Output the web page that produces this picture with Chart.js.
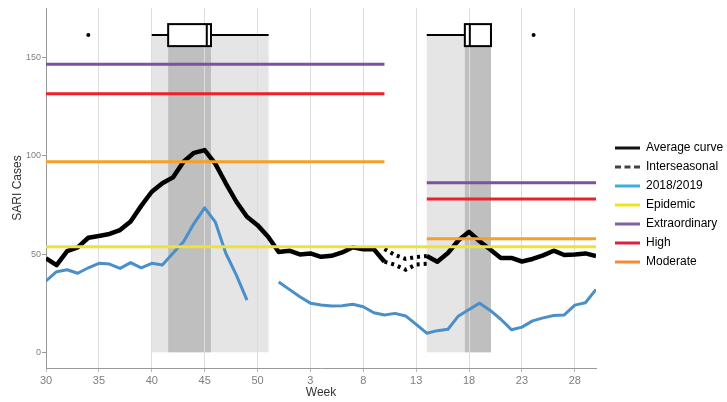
<!DOCTYPE html>
<html>
<head>
<meta charset="utf-8">
<script src="https://cdn.jsdelivr.net/npm/chart.js@4.4.1/dist/chart.umd.min.js"></script>
<style>
  html, body { margin: 0; padding: 0; background: #ffffff; }
  #wrap { width: 727px; height: 402px; }
</style>
</head>
<body>
<div id="wrap"><canvas id="sari"></canvas></div>
<script>
// === Data ===
// x axis runs on week position (0 = week 30 of the first year)
const weekLabels = [30, 31, 32, 33, 34, 35, 36, 37, 38, 39, 40, 41, 42, 43, 44, 45, 46, 47, 48, 49, 50, 51, 52,
    1, 2, 3, 4, 5, 6, 7, 8, 9, 10, 11, 12, 13, 14, 15, 16, 17, 18, 19, 20, 21, 22, 23, 24, 25, 26, 27, 28, 29, 30];
const xTickWeeks = [30, 35, 40, 45, 50, 3, 8, 13, 18, 23, 28];
const yTicks = [0, 50, 100, 150];

const averageCurve = [47.8, 44.4, 51.5, 53.4, 58.3, 59.2, 60.2, 62.2, 66.6, 74.5,
    81.7, 86.0, 89.0, 97.0, 101.5, 102.9, 96.0, 86.0, 76.6, 69.0,
    64.7, 58.8, 51.0, 51.7, 49.8, 50.3, 48.6, 49.1, 50.8, 53.4,
    52.4, 52.4, 46.1, null, null, null, 49.0, 46.1, 50.5, 57.0,
    61.3, 56.5, 52.3, 48.0, 48.0, 46.2, 47.5, 49.3, 51.7, 49.5,
    49.8, 50.3, 49.0];

const season2018 = [36.3, 41.0, 42.0, 40.2, 43.0, 45.3, 44.9, 42.7, 45.6, 43.0,
    45.3, 44.4, 50.4, 56.3, 65.6, 73.5, 66.4, 50.4, 39.3, 26.5,
    null, null, 35.8, 32.0, 28.3, 25.0, 24.1, 23.5, 23.7, 24.4,
    23.2, 20.1, 19.0, 19.8, 18.5, 14.2, 9.7, 11.0, 11.7, 18.5,
    21.8, 25.0, 21.3, 16.8, 11.5, 12.8, 16.0, 17.5, 18.7, 19.0,
    24.0, 25.2, 32.0];

// interseasonal band between the two seasons (positions 32..36)
const interseasonalStart = 32;
const interseasonalHigh = [52.5, 49.5, 47.5, 48.5, 49.0];
const interseasonalLow = [46.1, 44.5, 42.0, 44.7, 45.0];

// alert thresholds, one value per season
const thresholdNames = ['Epidemic', 'Extraordinary', 'High', 'Moderate'];
const thresholdSeasonOne = [53.7, 146.6, 131.5, 97.0];
const thresholdSeasonTwo = [53.7, 86.3, 78.0, 57.8];
const seasonSpans = [[0, 32], [36, 52]];

// peak timing box plots (in week positions)
const peakLevel = 161.4;
const peakHalfHeight = 5.6;
const peakBoxes = [
    { min: 10, q1: 11.55, median: 15.2, q3: 15.6, max: 21.05 },
    { min: 36, q1: 39.6, median: 40.07, q3: 42.07, max: 42.07 }
];
const peakOutliers = [4, 46.1];

const legendNames = ['Average curve', 'Interseasonal', '2018/2019', 'Epidemic', 'Extraordinary', 'High', 'Moderate'];

// === Styles ===
const lineColors = {
    'Epidemic': '#eee13a',
    'Extraordinary': '#7e50a0',
    'High': '#ee2128',
    'Moderate': '#f5a124'
};
const legendStyles = {
    'Average curve': { color: '#111111', dash: [] },
    'Interseasonal': { color: '#444444', dash: [6, 3.5] },
    '2018/2019': { color: '#3aaee0', dash: [] },
    'Epidemic': { color: '#f2e21a', dash: [] },
    'Extraordinary': { color: '#8062a8', dash: [] },
    'High': { color: '#e11f3a', dash: [] },
    'Moderate': { color: '#f28c3a', dash: [] }
};

Chart.defaults.font.family = "'Liberation Sans', Arial, sans-serif";

// === Helpers ===
function toPoints(values, start = 0) {
    return values.map((v, i) => ({ x: start + i, y: v }));
}

function thresholdPoints(i) {
    const a = seasonSpans[0], b = seasonSpans[1];
    return [
        { x: a[0], y: thresholdSeasonOne[i] },
        { x: a[1], y: thresholdSeasonOne[i] },
        { x: (a[1] + b[0]) / 2, y: null },
        { x: b[0], y: thresholdSeasonTwo[i] },
        { x: b[1], y: thresholdSeasonTwo[i] }
    ];
}

const thresholdSets = thresholdNames.map((name, i) => ({
    label: name,
    data: thresholdPoints(i),
    borderColor: lineColors[name],
    borderWidth: 3,
    pointRadius: 0,
    spanGaps: name === 'Epidemic'
}));

// shaded peak windows + box plots
const peakPlugin = {
    id: 'peakPlugin',
    beforeDraw(chart) {
        const { ctx, chartArea, scales: { x, y } } = chart;
        const top = y.getPixelForValue(peakLevel);
        const bottom = y.getPixelForValue(0);
        ctx.save();
        ctx.beginPath();
        ctx.rect(chartArea.left, chartArea.top, chartArea.width, chartArea.height);
        ctx.clip();
        peakBoxes.forEach(b => {
            const x0 = x.getPixelForValue(b.min), x1 = x.getPixelForValue(b.max);
            ctx.fillStyle = '#e5e5e5';
            ctx.fillRect(x0, top, x1 - x0, bottom - top);
            const q1 = x.getPixelForValue(b.q1), q3 = x.getPixelForValue(b.q3);
            ctx.fillStyle = '#bfbfbf';
            ctx.fillRect(q1, top, q3 - q1, bottom - top);
        });
        ctx.restore();
    },
    afterDatasetsDraw(chart) {
        const { ctx, scales: { x, y } } = chart;
        const mid = y.getPixelForValue(peakLevel);
        const boxTop = y.getPixelForValue(peakLevel + peakHalfHeight);
        const boxBottom = y.getPixelForValue(peakLevel - peakHalfHeight);
        ctx.save();
        ctx.strokeStyle = '#000000';
        ctx.lineWidth = 2;
        peakBoxes.forEach(b => {
            const px = v => x.getPixelForValue(v);
            ctx.beginPath();
            ctx.moveTo(px(b.min), mid);
            ctx.lineTo(px(b.q1), mid);
            ctx.moveTo(px(b.q3), mid);
            ctx.lineTo(px(b.max), mid);
            ctx.stroke();
            ctx.fillStyle = '#ffffff';
            ctx.fillRect(px(b.q1), boxTop, px(b.q3) - px(b.q1), boxBottom - boxTop);
            ctx.strokeRect(px(b.q1), boxTop, px(b.q3) - px(b.q1), boxBottom - boxTop);
            ctx.beginPath();
            ctx.moveTo(px(b.median), boxTop);
            ctx.lineTo(px(b.median), boxBottom);
            ctx.stroke();
        });
        ctx.restore();
    }
};

// fixed legend width, nudged right a bit
const legendFit = {
    id: 'legendFit',
    beforeInit(chart) {
        const fit = chart.legend.fit;
        chart.legend.fit = function () {
            fit.call(this);
            this.width = 131;
        };
    },
    afterLayout(chart) {
        chart.legend.left += 12;
    }
};

const ctx = document.getElementById('sari').getContext('2d');

new Chart(ctx, {
    type: 'line',
    data: {
        datasets: [
            ...thresholdSets,
            {
                label: '2018/2019',
                data: toPoints(season2018),
                borderColor: '#4b8fc8',
                borderWidth: 3,
                pointRadius: 0,
                borderJoinStyle: 'round'
            },
            {
                label: 'Interseasonal',
                data: toPoints(interseasonalHigh, interseasonalStart),
                borderColor: '#000000',
                borderWidth: 4,
                borderDash: [3, 4],
                pointRadius: 0
            },
            {
                label: 'Interseasonal low',
                data: toPoints(interseasonalLow, interseasonalStart),
                borderColor: '#000000',
                borderWidth: 4,
                borderDash: [3, 4],
                pointRadius: 0
            },
            {
                label: 'Average curve',
                data: toPoints(averageCurve),
                borderColor: '#000000',
                borderWidth: 4.5,
                pointRadius: 0,
                borderJoinStyle: 'round'
            },
            {
                label: 'Outliers',
                data: peakOutliers.map(w => ({ x: w, y: peakLevel })),
                showLine: false,
                pointRadius: 2,
                pointBorderWidth: 0,
                pointBackgroundColor: '#000000'
            }
        ]
    },
    options: {
        responsive: true,
        maintainAspectRatio: false,
        animation: false,
        events: [],
        layout: { padding: { top: 8, left: 0, right: 0, bottom: 0 } },
        scales: {
            x: {
                type: 'linear',
                min: 0,
                max: weekLabels.length - 1,
                afterBuildTicks: s => { s.ticks = xTickWeeks.map(w => ({ value: weekLabels.indexOf(w) })); },
                afterFit: s => { s.height = 34; },
                ticks: {
                    callback: v => weekLabels[v],
                    color: '#7f7f7f',
                    font: { size: 11 },
                    padding: 2,
                    maxRotation: 0,
                    autoSkip: false
                },
                grid: { color: '#dddddd', tickColor: '#bbbbbb', tickLength: 4 },
                border: { color: '#999999', width: 1 },
                title: { display: true, text: 'Week', color: '#333333', font: { size: 12 }, padding: { top: 0, bottom: 2 } }
            },
            y: {
                min: -8,
                max: 175.2,
                afterBuildTicks: s => { s.ticks = yTicks.map(v => ({ value: v })); },
                afterFit: s => { s.width = 46; },
                ticks: { color: '#7f7f7f', font: { size: 9 }, padding: 1 },
                grid: { drawOnChartArea: false, tickLength: 4, tickColor: '#999999' },
                border: { color: '#999999', width: 1 },
                title: { display: true, text: 'SARI Cases', color: '#333333', font: { size: 12 }, padding: { top: 10, bottom: 0 } }
            }
        },
        plugins: {
            tooltip: { enabled: false },
            legend: {
                position: 'right',
                labels: {
                    usePointStyle: true,
                    pointStyleWidth: 25,
                    padding: 7,
                    color: '#444444',
                    font: { size: 12 },
                    generateLabels: () => legendNames.map(name => ({
                        text: name,
                        pointStyle: 'line',
                        strokeStyle: legendStyles[name].color,
                        fillStyle: legendStyles[name].color,
                        lineWidth: 3,
                        lineDash: legendStyles[name].dash,
                        hidden: false
                    }))
                }
            }
        }
    },
    plugins: [peakPlugin, legendFit]
});
</script>
</body>
</html>
